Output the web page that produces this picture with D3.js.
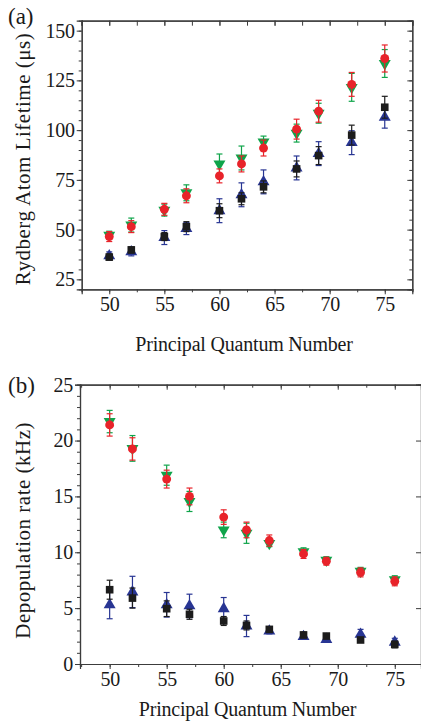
<!DOCTYPE html>
<html>
<head>
<meta charset="utf-8">
<script src="https://cdn.jsdelivr.net/npm/d3@7"></script>
<style>
  body { margin: 0; background: #fff; }
  svg { display: block; }
  text { font-family: "Liberation Serif", "Times New Roman", serif; fill: #1a1a1a; }
</style>
</head>
<body>
<svg id="chart" width="421" height="722"></svg>
<script>
// principal quantum numbers (shared by both panels)
const nValues = [50, 52, 55, 57, 60, 62, 64, 67, 69, 72, 75];

// (a) Rydberg atom lifetime (µs)
const lifeBlack = [36.2, 39.8, 46.5, 51.5, 59.5, 65.5, 71.5, 80.5, 87.2, 97.5, 111.5];
const lifeBlackErr = [1.5, 1.5, 2, 2.5, 3.5, 3, 3, 4, 4.5, 5, 5.5];
const lifeBlue = [36.8, 38.8, 46, 50.5, 59.5, 67.5, 74, 81, 88.2, 93.7, 106.5];
const lifeBlueErr = [2, 2, 3.5, 3, 6, 6, 6, 6, 6, 6, 5.5];
const lifeRed = [46.5, 51.5, 60.2, 67, 77, 83, 91, 100.5, 109.5, 123, 136];
const lifeRedErr = [2.5, 3, 3, 3.5, 3.5, 4, 4, 5, 5.5, 6, 6.8];
const lifeGreen = [47.2, 52.3, 59.8, 68.5, 83, 86, 94, 98.5, 108.5, 121.5, 133.5];
const lifeGreenErr = [2, 3.5, 3, 4, 5, 6, 3, 4.5, 5, 7, 7];

// (b) depopulation rate (kHz)
const rateBlack = [6.65, 5.9, 4.95, 4.45, 3.85, 3.45, 3.1, 2.6, 2.5, 2.15, 1.75];
const rateBlackErr = [0.85, 0.9, 0.7, 0.45, 0.4, 0.4, 0.25, 0.25, 0.2, 0.2, 0.3];
const rateBlue = [5.3, 6.45, 5.3, 5.2, 4.95, 3.4, 2.95, 2.45, 2.2, 2.65, 1.95];
const rateBlueErr = [1.25, 1.4, 1.1, 1.05, 1.0, 0.95, 0.25, 0.25, 0.2, 0.45, 0.35];
const rateRed = [21.4, 19.25, 16.55, 15.0, 13.15, 12.0, 11.05, 9.85, 9.2, 8.2, 7.4];
const rateRedErr = [1.0, 1.0, 0.8, 0.75, 0.65, 0.7, 0.5, 0.4, 0.35, 0.4, 0.4];
const rateGreen = [21.7, 19.3, 16.9, 14.55, 12.0, 11.7, 10.8, 10.05, 9.3, 8.3, 7.55];
const rateGreenErr = [1.0, 1.15, 0.9, 0.9, 0.7, 0.9, 0.3, 0.35, 0.3, 0.35, 0.35];

// tick labels
const xTicks = [50, 55, 60, 65, 70, 75];
const lifeTicks = [25, 50, 75, 100, 125, 150];
const rateTicks = [0, 5, 10, 15, 20, 25];

const svg = d3.select("#chart");
const axisColor = "#3c3c3c";

//symbols
const shapes = {
    square: { type: d3.symbolSquare, size: 58, rotate: 0 },
    up: { type: d3.symbolTriangle, size: 62, rotate: 0 },
    circle: { type: d3.symbolCircle, size: 62, rotate: 0 },
    down: { type: d3.symbolTriangle, size: 62, rotate: 180 }
};

function drawPanel(cfg) {
    const g = svg.append("g");
    const x = d3.scaleLinear().domain(cfg.xDomain).range(cfg.xRange);
    const y = d3.scaleLinear().domain(cfg.yDomain).range(cfg.yRange);

    const xMinor = d3.range(47.5, 77.6, 2.5).filter(v => v >= cfg.xDomain[0] && v <= cfg.xDomain[1]);

    //bottom axis (outward)
    const bottom = g.append("g").attr("transform", `translate(0,${cfg.yRange[0]})`);
    bottom.call(d3.axisBottom(x).tickValues(xMinor).tickSize(3).tickFormat(""));
    bottom.append("g").call(d3.axisBottom(x).tickValues(xTicks).tickSize(5).tickPadding(3).tickFormat(d3.format("d")));

    //top axis (inward)
    const top = g.append("g").attr("transform", `translate(0,${cfg.yRange[1]})`);
    top.call(d3.axisTop(x).tickValues(xMinor).tickSize(cfg.topMinor).tickFormat(""));
    top.append("g").call(d3.axisTop(x).tickValues(xTicks).tickSize(-5).tickFormat(""));

    //left axis (outward)
    const left = g.append("g").attr("transform", `translate(${cfg.xRange[0]},0)`);
    left.call(d3.axisLeft(y).tickValues(cfg.yMinor).tickSize(3).tickFormat(""));
    left.append("g").call(d3.axisLeft(y).tickValues(cfg.yTicks).tickSize(5).tickPadding(2).tickFormat(d3.format("d")));

    //right axis (inward)
    const right = g.append("g").attr("transform", `translate(${cfg.xRange[1]},0)`);
    right.call(d3.axisRight(y).tickValues(cfg.yRightMinor).tickSize(-3).tickFormat(""));
    right.append("g").call(d3.axisRight(y).tickValues(cfg.yTicks).tickSize(-5).tickFormat(""));

    g.selectAll(".domain").attr("stroke", axisColor).attr("stroke-width", 1.2);
    g.selectAll(".tick line").attr("stroke", axisColor).attr("stroke-width", 1);
    g.selectAll(".tick text")
        .attr("font-family", "Liberation Serif")
        .attr("font-size", 20)
        .attr("letter-spacing", -0.3)
        .attr("fill", "#1a1a1a");

    //series with error bars
    cfg.series.forEach(s => {
        const sg = g.append("g");
        const pts = nValues.map((n, i) => ({ n: n, v: s.values[i], e: s.err[i] }));
        const cap = 3;

        sg.selectAll("line.bar").data(pts).join("line")
            .attr("x1", d => x(d.n)).attr("x2", d => x(d.n))
            .attr("y1", d => y(d.v - d.e)).attr("y2", d => y(d.v + d.e))
            .attr("stroke", s.color).attr("stroke-width", 1.2);
        sg.selectAll("line.capTop").data(pts).join("line")
            .attr("x1", d => x(d.n) - cap).attr("x2", d => x(d.n) + cap)
            .attr("y1", d => y(d.v + d.e)).attr("y2", d => y(d.v + d.e))
            .attr("stroke", s.color).attr("stroke-width", 1.2);
        sg.selectAll("line.capBot").data(pts).join("line")
            .attr("x1", d => x(d.n) - cap).attr("x2", d => x(d.n) + cap)
            .attr("y1", d => y(d.v - d.e)).attr("y2", d => y(d.v - d.e))
            .attr("stroke", s.color).attr("stroke-width", 1.2);

        const shape = shapes[s.shape];
        sg.selectAll("path.mark").data(pts).join("path")
            .attr("d", d3.symbol().type(shape.type).size(shape.size))
            .attr("transform", d => `translate(${x(d.n)},${y(d.v)}) rotate(${shape.rotate})`)
            .attr("fill", s.color);
    });

    //labels
    const midX = (cfg.xRange[0] + cfg.xRange[1]) / 2;
    g.append("text")
        .attr("x", midX - 3).attr("y", cfg.xTitleY)
        .attr("text-anchor", "middle")
        .attr("font-size", 20)
        .attr("letter-spacing", -0.2)
        .text("Principal Quantum Number");

    const midY = (cfg.yRange[0] + cfg.yRange[1]) / 2;
    g.append("text")
        .attr("transform", `translate(30,${midY + cfg.yTitleShift}) rotate(-90)`)
        .attr("text-anchor", "middle")
        .attr("font-size", 21)
        .attr("letter-spacing", 0.5)
        .text(cfg.yTitle);

    g.append("text")
        .attr("x", 8).attr("y", cfg.tagY)
        .attr("font-size", 23)
        .text(cfg.tag);
}

const black = "#1c1c1c", blue = "#283593", red = "#e8232a", green = "#0fa44a";

drawPanel({
    tag: "(a)", tagY: 24,
    xDomain: [47.5, 77.5], xRange: [81.7, 412.3],
    yDomain: [20, 155], yRange: [289.3, 20.7],
    yTicks: lifeTicks,
    yMinor: d3.range(25, 155, 5),
    yRightMinor: d3.range(25, 155, 5),
    topMinor: -5,
    yTitle: "Rydberg Atom Lifetime (\u03bcs)", yTitleShift: 4,
    xTitleY: 351,
    series: [
        { values: lifeBlue, err: lifeBlueErr, color: blue, shape: "up" },
        { values: lifeBlack, err: lifeBlackErr, color: black, shape: "square" },
        { values: lifeGreen, err: lifeGreenErr, color: green, shape: "down" },
        { values: lifeRed, err: lifeRedErr, color: red, shape: "circle" }
    ]
});

drawPanel({
    tag: "(b)", tagY: 393,
    xDomain: [47.4, 77.3], xRange: [80, 421],
    yDomain: [0, 25], yRange: [664, 384.7],
    yTicks: rateTicks,
    yMinor: d3.range(0, 25, 1),
    yRightMinor: [],
    topMinor: -3,
    yTitle: "Depopulation rate (kHz)", yTitleShift: 6,
    xTitleY: 716,
    series: [
        { values: rateBlue, err: rateBlueErr, color: blue, shape: "up" },
        { values: rateBlack, err: rateBlackErr, color: black, shape: "square" },
        { values: rateGreen, err: rateGreenErr, color: green, shape: "down" },
        { values: rateRed, err: rateRedErr, color: red, shape: "circle" }
    ]
});
</script>
</body>
</html>
